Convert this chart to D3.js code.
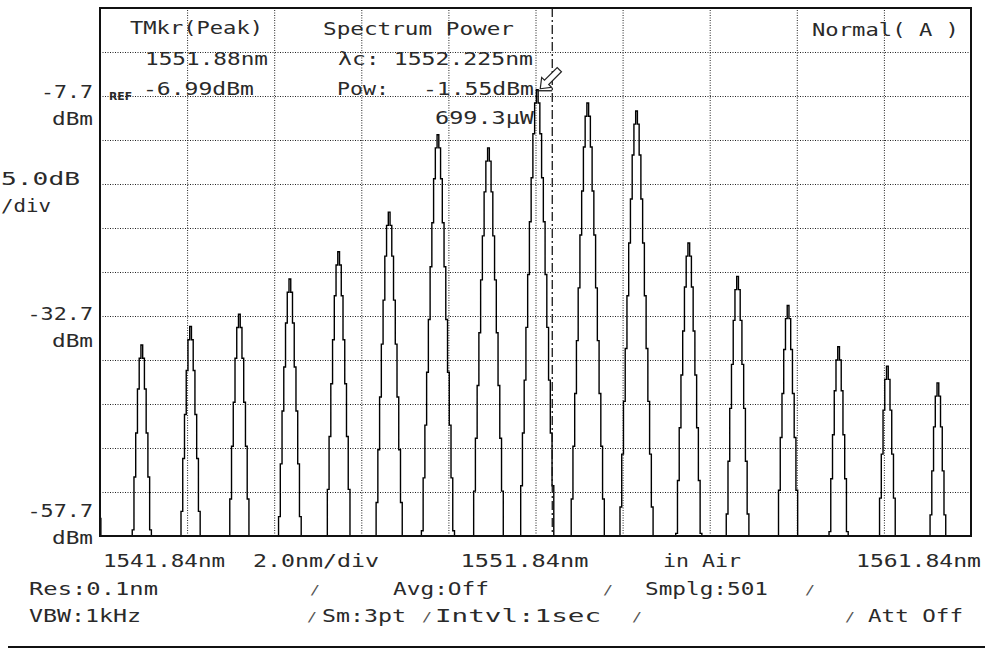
<!DOCTYPE html>
<html>
<head>
<meta charset="utf-8">
<script src="https://cdn.jsdelivr.net/npm/d3@7"></script>
<style>
body{margin:0;background:#fff;}
text{font-family:"DejaVu Sans Mono","Liberation Mono",monospace;fill:#2a2a2a;}
</style>
</head>
<body>
<div id="osa-chart"></div>
<script>
var startWl = 1541.84, stopWl = 1561.84;
var bottomLevel = -57.7, topLevel = 2.3;
var sampleCount = 501;
var noiseFloor = -75;

var peakWavelengths = [1541.64, 1542.80, 1543.91, 1545.05, 1546.18, 1547.33, 1548.48, 1549.60, 1550.75, 1551.88, 1553.02, 1554.17, 1555.34, 1556.49, 1557.64, 1558.79, 1559.93, 1561.08];
var peakPowers = [-34.7, -36.0, -33.9, -32.5, -28.5, -25.4, -20.9, -12.1, -13.6, -6.99, -8.5, -9.4, -24.4, -28.2, -31.5, -36.2, -38.4, -40.3];
// dB below the peak, one entry per sample away from it
var peakProfile = [0, 1.5, 5, 10, 15, 21, 27, 33, 39, 45, 51, 60];

var xTicks = [1541.84, 1551.84, 1561.84];
var xTickLabels = ["1541.84nm", "1551.84nm", "1561.84nm"];
var yTicks = [-7.7, -32.7, -57.7];
var yTickLabels = ["-7.7", "-32.7", "-57.7"];

var markerWl = 1551.88, markerPow = -6.99;
var centerWl = 1552.225;

var W = 985, H = 650;
var plotL = 100, plotR = 971, plotT = 8, plotB = 536;

var svg = d3.select("#osa-chart").append("svg").attr("width", W).attr("height", H);

var xScale = d3.scaleLinear().domain([startWl, stopWl]).range([plotL, plotR]);
var yScale = d3.scaleLinear().domain([bottomLevel, topLevel]).range([plotB, plotT]);

// grid
var gridX = d3.range(1, 10).map(function(k){ return startWl + k*2; });
var gridY = d3.range(1, 12).map(function(k){ return bottomLevel + k*5; });

svg.append("g").attr("class", "grid")
    .attr("transform", "translate(0," + plotB + ")")
    .call(d3.axisBottom(xScale).tickValues(gridX).tickSize(-(plotB - plotT)).tickFormat(""));
svg.append("g").attr("class", "grid")
    .attr("transform", "translate(" + plotL + ",0)")
    .call(d3.axisLeft(yScale).tickValues(gridY).tickSize(-(plotR - plotL)).tickFormat(""));
svg.selectAll(".grid .domain").remove();
svg.selectAll(".grid line").attr("stroke", "#222").attr("stroke-width", 1).attr("stroke-dasharray", "1,1.5");

// trace
var sampleStep = (stopWl - startWl) / (sampleCount - 1);
var peakIndex = peakWavelengths.map(function(w){ return Math.round((w - startWl) / sampleStep); });
var trace = d3.range(sampleCount).map(function(i){
    var p = noiseFloor;
    peakIndex.forEach(function(k, j){
        var off = Math.abs(i - k);
        if (off < peakProfile.length) p = Math.max(p, peakPowers[j] - peakProfile[off]);
    });
    return {wl: startWl + i*sampleStep, pow: p};
});

var line = d3.line()
    .x(function(d){ return xScale(d.wl); })
    .y(function(d){ return yScale(Math.max(d.pow, bottomLevel)); })
    .curve(d3.curveStep);

svg.append("path").datum(trace)
    .attr("d", line)
    .attr("fill", "none")
    .attr("stroke", "#000")
    .attr("stroke-width", 1.4);

// centre wavelength marker
svg.append("line")
    .attr("x1", xScale(centerWl)).attr("x2", xScale(centerWl))
    .attr("y1", plotT).attr("y2", plotB)
    .attr("stroke", "#1a1a1a").attr("stroke-width", 1.3)
    .attr("stroke-dasharray", "9,3,2,3");

var mx = xScale(markerWl), my = yScale(markerPow);
svg.append("line")
    .attr("x1", mx).attr("x2", xScale(centerWl))
    .attr("y1", my + 1).attr("y2", my + 1)
    .attr("stroke", "#1a1a1a").attr("stroke-width", 1.3);
svg.append("polygon")
    .attr("points", "0,0 -9,-7 -9,-3 -27,-3 -27,3 -9,3 -9,7")
    .attr("transform", "translate(" + (mx + 3) + "," + (my - 1) + ") rotate(135)")
    .attr("fill", "#fff").attr("stroke", "#222").attr("stroke-width", 1.2);

// frame
svg.append("rect")
    .attr("x", plotL).attr("y", plotT)
    .attr("width", plotR - plotL).attr("height", plotB - plotT)
    .attr("fill", "none").attr("stroke", "#111").attr("stroke-width", 2);
svg.append("line")
    .attr("x1", 8).attr("x2", W).attr("y1", 647).attr("y2", 647)
    .attr("stroke", "#111").attr("stroke-width", 2);

var addText = function(str, x, y, w, size){
    var t = svg.append("text").attr("x", x).attr("y", y)
        .style("font-size", (size || 17) + "px").text(str);
    if (w) t.attr("textLength", w).attr("lengthAdjust", "spacingAndGlyphs");
    return t;
};

// y labels
var yLabelShift = [2, 4, -19];
yTicks.forEach(function(v, i){
    var by = yScale(v) + yLabelShift[i];
    addText(yTickLabels[i], 93, by, null).attr("text-anchor", "end")
        .attr("textLength", yTickLabels[i].length * 13.5 - 2).attr("lengthAdjust", "spacingAndGlyphs");
    addText("dBm", 93, by + 27, null).attr("text-anchor", "end")
        .attr("textLength", 41).attr("lengthAdjust", "spacingAndGlyphs");
});
addText("5.0dB", 1, 185, 79);
addText("/div", 1, 212, 50);
svg.append("text").attr("x", 109).attr("y", 100)
    .style("font-size", "10px").style("font-family", "'DejaVu Sans',sans-serif").style("font-weight", "bold")
    .attr("textLength", 23).attr("lengthAdjust", "spacingAndGlyphs").text("REF");

// x labels
addText(xTickLabels[0], xScale(xTicks[0]) + 3, 567, 122);
addText("2.0nm/div", 253, 567, 126);
addText(xTickLabels[1], xScale(xTicks[1]) - 75, 567, 128);
addText("in Air", 663, 567, 78);
addText(xTickLabels[2], xScale(xTicks[2]) - 115, 567, 125);

// header
addText("TMkr(Peak)", 130, 34, 133);
addText("1551.88nm", 145, 65, 123);
addText("-6.99dBm", 143, 95, 111);
addText("Spectrum Power", 323, 35, 191);
addText("\u03bbc: 1552.225nm", 338, 65, 195);
addText("Pow:", 337, 95, 52);
addText("-1.55dBm", 423, 95, 111);
addText("699.3\u03bcW", 435, 124, 99);
addText("Normal( A )", 812, 36, 147);

// settings
addText("Res:0.1nm", 29, 595, 129);
addText("Avg:Off", 393, 595, 96);
addText("Smplg:501", 645, 595, 123);
addText("VBW:1kHz", 29, 622, 112);
addText("Sm:3pt", 322, 622, 84);
addText("Intvl:1sec", 435, 622, 166);
addText("Att Off", 868, 622, 95);
[[310, 595], [603, 595], [805, 595], [307, 622], [422, 622], [632, 622], [845, 622]].forEach(function(p){
    addText("/", p[0], p[1] - 1, 10, 13).style("fill", "#555");
});
</script>
</body>
</html>
